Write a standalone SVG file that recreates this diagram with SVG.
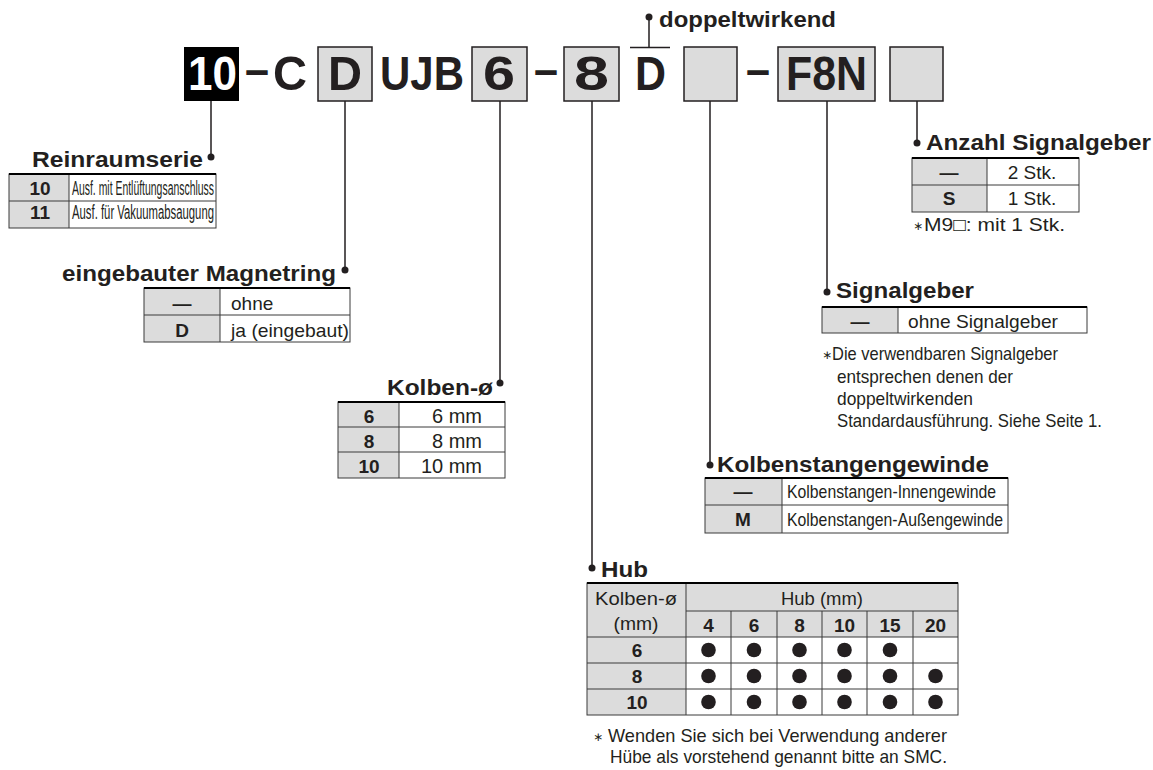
<svg xmlns="http://www.w3.org/2000/svg" width="1153" height="770" viewBox="0 0 1153 770">
<style>
text{font-family:"Liberation Sans",Arial,"DejaVu Sans",sans-serif;fill:#231f20}
.code{font-size:49px;font-weight:bold}
.h{font-size:22px;font-weight:bold}
.t{font-size:19px}
.b{font-size:19px;font-weight:bold}
.n{font-size:18.5px}
.ast{font-size:12px}
.box{fill:#dcdcdc;stroke:#231f20;stroke-width:1.5}
.cell{fill:#dcdcdc}
.grid{fill:none;stroke:#3a3a3a;stroke-width:1}
.topl{stroke:#000;stroke-width:2.2}
.con{fill:none;stroke:#231f20;stroke-width:1.5}
.dot{fill:#231f20}
</style>
<rect width="1153" height="770" fill="#fff"/>

<g id="code">
  <g id="c-10">
    <rect x="184" y="47" width="55" height="54" fill="#000"/>
    <text class="code" x="188" y="90" textLength="49" lengthAdjust="spacingAndGlyphs" style="fill:#fff">10</text>
  </g>
  <text class="code" x="245" y="86" textLength="24" lengthAdjust="spacingAndGlyphs">–</text>
  <text class="code" x="273" y="90" textLength="34" lengthAdjust="spacingAndGlyphs">C</text>
  <g id="c-D">
    <rect class="box" x="318" y="47" width="54" height="54"/>
    <text class="code" x="328" y="90" textLength="34" lengthAdjust="spacingAndGlyphs">D</text>
  </g>
  <text class="code" x="380" y="90" textLength="84" lengthAdjust="spacingAndGlyphs">UJB</text>
  <g id="c-6">
    <rect class="box" x="472" y="47" width="55" height="54"/>
    <text class="code" x="483" y="90" textLength="32" lengthAdjust="spacingAndGlyphs">6</text>
  </g>
  <text class="code" x="534" y="86" textLength="24" lengthAdjust="spacingAndGlyphs">–</text>
  <g id="c-8">
    <rect class="box" x="564" y="47" width="55" height="54"/>
    <text class="code" x="574" y="90" textLength="35" lengthAdjust="spacingAndGlyphs">8</text>
  </g>
  <g id="c-Dd">
    <text class="code" x="635" y="90" textLength="31" lengthAdjust="spacingAndGlyphs">D</text>
  </g>
  <g id="c-blank1">
    <rect class="box" x="684" y="47" width="53" height="54"/>
  </g>
  <text class="code" x="746" y="86" textLength="24" lengthAdjust="spacingAndGlyphs">–</text>
  <g id="c-F8N">
    <rect class="box" x="778" y="47" width="97" height="54"/>
    <text class="code" x="786" y="90" textLength="81" lengthAdjust="spacingAndGlyphs">F8N</text>
  </g>
  <g id="c-blank2">
    <rect class="box" x="890" y="47" width="53" height="54"/>
  </g>
</g>

<g id="connectors">
  <path class="con" d="M211,101V157 M345,101V270 M500,101V383 M592,101V568 M710,101V465 M827,101V292 M917,101V143 M649,17V47 M630,47.5H670"/>
  <circle class="dot" cx="211" cy="157" r="3.5"/>
  <circle class="dot" cx="345" cy="270" r="3.5"/>
  <circle class="dot" cx="500" cy="383" r="3.5"/>
  <circle class="dot" cx="592" cy="568" r="3.5"/>
  <circle class="dot" cx="710" cy="465" r="3.5"/>
  <circle class="dot" cx="827" cy="292" r="3.5"/>
  <circle class="dot" cx="917" cy="143" r="3.5"/>
  <circle class="dot" cx="649" cy="17" r="3.5"/>
</g>

<g id="doppeltwirkend">
  <text class="h" x="659" y="27" textLength="177" lengthAdjust="spacingAndGlyphs">doppeltwirkend</text>
</g>

<g id="reinraumserie">
  <text class="h" x="32" y="167" textLength="171" lengthAdjust="spacingAndGlyphs">Reinraumserie</text>
  <rect class="cell" x="9" y="174" width="60" height="54"/>
  <rect class="grid" x="9" y="174" width="207" height="54"/>
  <line class="grid" x1="9" y1="201" x2="216" y2="201"/>
  <line class="grid" x1="69" y1="174" x2="69" y2="228"/>
  <line class="topl" x1="9" y1="174" x2="216" y2="174"/>
  <text class="b" x="40" y="195" text-anchor="middle">10</text>
  <text class="t" x="72" y="195" textLength="142" lengthAdjust="spacingAndGlyphs" style="font-size:20px">Ausf. mit Entlüftungsanschluss</text>
  <text class="b" x="40" y="219" text-anchor="middle">11</text>
  <text class="t" x="72" y="219" textLength="142" lengthAdjust="spacingAndGlyphs" style="font-size:20px">Ausf. für Vakuumabsaugung</text>
</g>

<g id="magnetring">
  <text class="h" x="62" y="281" textLength="274" lengthAdjust="spacingAndGlyphs">eingebauter Magnetring</text>
  <rect class="cell" x="144" y="288" width="76" height="54"/>
  <rect class="grid" x="144" y="288" width="206" height="54"/>
  <line class="grid" x1="144" y1="315" x2="350" y2="315"/>
  <line class="grid" x1="220" y1="288" x2="220" y2="342"/>
  <line class="topl" x1="144" y1="288" x2="350" y2="288"/>
  <text class="b" x="182" y="310" text-anchor="middle">—</text>
  <text class="t" x="231" y="310">ohne</text>
  <text class="b" x="182" y="337" text-anchor="middle">D</text>
  <text class="t" x="231" y="337" textLength="118" lengthAdjust="spacingAndGlyphs">ja (eingebaut)</text>
</g>

<g id="kolben">
  <text class="h" x="387" y="395" textLength="106" lengthAdjust="spacingAndGlyphs">Kolben-ø</text>
  <rect class="cell" x="338" y="402" width="61" height="76"/>
  <rect class="grid" x="338" y="402" width="167" height="76"/>
  <line class="grid" x1="338" y1="427" x2="505" y2="427"/>
  <line class="grid" x1="338" y1="452" x2="505" y2="452"/>
  <line class="grid" x1="399" y1="402" x2="399" y2="478"/>
  <line class="topl" x1="338" y1="402" x2="505" y2="402"/>
  <text class="b" x="369" y="423" text-anchor="middle">6</text>
  <text class="b" x="369" y="448" text-anchor="middle">8</text>
  <text class="b" x="369" y="473" text-anchor="middle">10</text>
  <text class="t" x="482" y="423" text-anchor="end" style="font-size:20px">6 mm</text>
  <text class="t" x="482" y="448" text-anchor="end" style="font-size:20px">8 mm</text>
  <text class="t" x="482" y="473" text-anchor="end" style="font-size:20px">10 mm</text>
</g>

<g id="anzahl">
  <text class="h" x="926" y="150" textLength="225" lengthAdjust="spacingAndGlyphs">Anzahl Signalgeber</text>
  <rect class="cell" x="912" y="158" width="75" height="54"/>
  <rect class="grid" x="912" y="158" width="167" height="54"/>
  <line class="grid" x1="912" y1="185" x2="1079" y2="185"/>
  <line class="grid" x1="987" y1="158" x2="987" y2="212"/>
  <line class="topl" x1="912" y1="158" x2="1079" y2="158"/>
  <text class="b" x="949" y="179" text-anchor="middle">—</text>
  <text class="t" x="1032" y="179" text-anchor="middle">2 Stk.</text>
  <text class="b" x="949" y="205" text-anchor="middle">S</text>
  <text class="t" x="1032" y="205" text-anchor="middle">1 Stk.</text>
  <text class="ast" x="913" y="230">∗</text>
  <text class="n" x="924" y="231" textLength="141" lengthAdjust="spacingAndGlyphs">M9□: mit 1 Stk.</text>
</g>

<g id="signalgeber">
  <text class="h" x="836" y="298" textLength="138" lengthAdjust="spacingAndGlyphs">Signalgeber</text>
  <rect class="cell" x="822" y="307" width="76" height="26"/>
  <rect class="grid" x="822" y="307" width="265" height="26"/>
  <line class="grid" x1="898" y1="307" x2="898" y2="333"/>
  <line class="topl" x1="822" y1="307" x2="1087" y2="307"/>
  <text class="b" x="860" y="328" text-anchor="middle">—</text>
  <text class="t" x="908" y="328" textLength="150" lengthAdjust="spacingAndGlyphs">ohne Signalgeber</text>
  <text class="ast" x="822" y="359">∗</text>
  <text class="n" x="832" y="360" textLength="226" lengthAdjust="spacingAndGlyphs">Die verwendbaren Signalgeber</text>
  <text class="n" x="837" y="383" textLength="176" lengthAdjust="spacingAndGlyphs">entsprechen denen der</text>
  <text class="n" x="837" y="405" textLength="136" lengthAdjust="spacingAndGlyphs">doppeltwirkenden</text>
  <text class="n" x="837" y="427" textLength="265" lengthAdjust="spacingAndGlyphs">Standardausführung. Siehe Seite 1.</text>
</g>

<g id="gewinde">
  <text class="h" x="717" y="472" textLength="272" lengthAdjust="spacingAndGlyphs">Kolbenstangengewinde</text>
  <rect class="cell" x="705" y="478" width="77" height="55"/>
  <rect class="grid" x="705" y="478" width="303" height="55"/>
  <line class="grid" x1="705" y1="505" x2="1008" y2="505"/>
  <line class="grid" x1="782" y1="478" x2="782" y2="533"/>
  <line class="topl" x1="705" y1="478" x2="1008" y2="478"/>
  <text class="b" x="743" y="498" text-anchor="middle">—</text>
  <text class="t" x="787" y="498" textLength="209" lengthAdjust="spacingAndGlyphs" style="font-size:18.5px">Kolbenstangen-Innengewinde</text>
  <text class="b" x="743" y="526" text-anchor="middle">M</text>
  <text class="t" x="787" y="526" textLength="216" lengthAdjust="spacingAndGlyphs" style="font-size:18.5px">Kolbenstangen-Außengewinde</text>
</g>

<g id="hub">
  <text class="h" x="601" y="577" textLength="47" lengthAdjust="spacingAndGlyphs">Hub</text>
  <rect class="cell" x="587" y="583" width="371" height="54"/>
  <rect class="cell" x="587" y="637" width="99" height="78"/>
  <rect class="grid" x="587" y="583" width="371" height="132"/>
  <path class="grid" d="M686,611H958 M587,637H958 M587,663H958 M587,689H958 M686,583V715 M731,611V715 M777,611V715 M822,611V715 M867,611V715 M913,611V715"/>
  <line class="topl" x1="587" y1="583" x2="958" y2="583"/>
  <text class="t" x="636" y="605" text-anchor="middle" textLength="82" lengthAdjust="spacingAndGlyphs">Kolben-ø</text>
  <text class="t" x="636" y="630" text-anchor="middle" textLength="45" lengthAdjust="spacingAndGlyphs">(mm)</text>
  <text class="t" x="822" y="605" text-anchor="middle" textLength="82" lengthAdjust="spacingAndGlyphs">Hub (mm)</text>
  <g text-anchor="middle">
    <text class="b" x="708.5" y="632">4</text>
    <text class="b" x="754" y="632">6</text>
    <text class="b" x="799.5" y="632">8</text>
    <text class="b" x="844.5" y="632">10</text>
    <text class="b" x="890" y="632">15</text>
    <text class="b" x="935.5" y="632">20</text>
    <text class="b" x="637" y="657">6</text>
    <text class="b" x="637" y="683">8</text>
    <text class="b" x="637" y="709">10</text>
  </g>
  <g class="dot">
    <circle cx="708.5" cy="650" r="7.3"/><circle cx="754" cy="650" r="7.3"/><circle cx="799.5" cy="650" r="7.3"/><circle cx="844.5" cy="650" r="7.3"/><circle cx="890" cy="650" r="7.3"/>
    <circle cx="708.5" cy="676" r="7.3"/><circle cx="754" cy="676" r="7.3"/><circle cx="799.5" cy="676" r="7.3"/><circle cx="844.5" cy="676" r="7.3"/><circle cx="890" cy="676" r="7.3"/><circle cx="935.5" cy="676" r="7.3"/>
    <circle cx="708.5" cy="702" r="7.3"/><circle cx="754" cy="702" r="7.3"/><circle cx="799.5" cy="702" r="7.3"/><circle cx="844.5" cy="702" r="7.3"/><circle cx="890" cy="702" r="7.3"/><circle cx="935.5" cy="702" r="7.3"/>
  </g>
  <text class="ast" x="593" y="741">∗</text>
  <text class="n" x="608" y="742" textLength="339" lengthAdjust="spacingAndGlyphs">Wenden Sie sich bei Verwendung anderer</text>
  <text class="n" x="610" y="763" textLength="337" lengthAdjust="spacingAndGlyphs">Hübe als vorstehend genannt bitte an SMC.</text>
</g>
</svg>
